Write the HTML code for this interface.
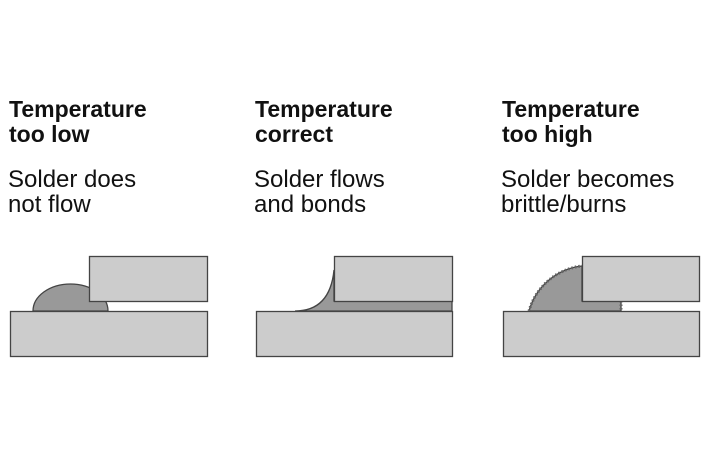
<!DOCTYPE html>
<html><head><meta charset="utf-8"><style>
body{margin:0;background:#fff;width:708px;height:472px;overflow:hidden;font-family:"Liberation Sans",Arial,sans-serif;color:#111}
.t{position:absolute;font-weight:bold;font-size:23px;line-height:25px;white-space:nowrap}
.s{position:absolute;font-size:24px;line-height:25px;white-space:nowrap}
svg{position:absolute;left:0;top:0}
</style></head><body>
<div class="t" style="left:9px;top:97px">Temperature<br>too low</div>
<div class="s" style="left:8px;top:167px">Solder does<br>not flow</div>
<div class="t" style="left:255px;top:97px">Temperature<br>correct</div>
<div class="s" style="left:254px;top:167px">Solder flows<br>and bonds</div>
<div class="t" style="left:502px;top:97px">Temperature<br>too high</div>
<div class="s" style="left:501px;top:167px">Solder becomes<br>brittle/burns</div>
<svg width="708" height="472" viewBox="0 0 708 472">
<g stroke="#444" stroke-width="1.3">
<!-- panel 1 -->
<path d="M33,311 A37.5,27 0 0 1 108,311 Z" fill="#999"/>
<rect x="89.5" y="256.5" width="118" height="45" fill="#ccc"/>
<rect x="10.5" y="311.5" width="197" height="45" fill="#ccc"/>
<!-- panel 2 -->
<path d="M295,311 Q330,311 334,270 L334,301 L452,301 L452,311 Z" fill="#999"/>
<rect x="334.5" y="256.5" width="118" height="45" fill="#ccc"/>
<rect x="256.5" y="311.5" width="196" height="45" fill="#ccc"/>
<!-- panel 3 -->
<path d="M529,311 A62,62 0 0 1 582,266 L582,301 L621,301 L621,311 Z" fill="#999"/>
<path d="M529,311 A62,62 0 0 1 582,266" fill="none" stroke="#666" stroke-width="3" stroke-dasharray="1.5 2"/>
<path d="M621,301 L621,311" fill="none" stroke="#666" stroke-width="3" stroke-dasharray="1.5 2"/>
<rect x="582.5" y="256.5" width="117" height="45" fill="#ccc"/>
<rect x="503.5" y="311.5" width="196" height="45" fill="#ccc"/>
</g>
</svg>
</body></html>
